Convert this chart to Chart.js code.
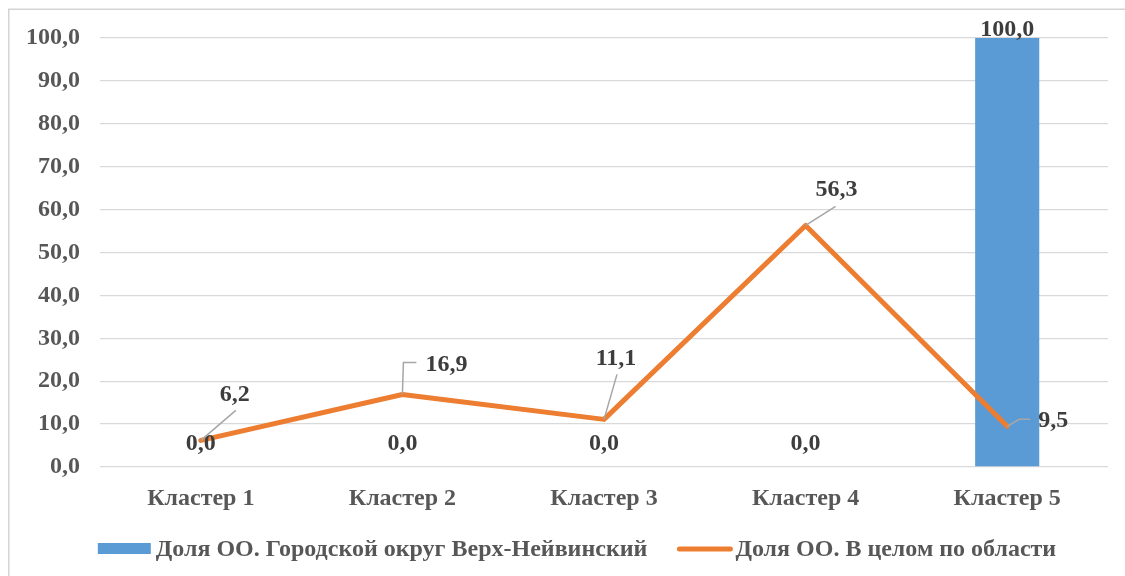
<!DOCTYPE html>
<html>
<head>
<meta charset="utf-8">
<title>Доля ОО по кластерам</title>
<script src="https://cdn.jsdelivr.net/npm/chart.js@4/dist/chart.umd.min.js"></script>
<style>
  html, body { margin: 0; padding: 0; background: #ffffff; }
  #wrap { position: absolute; left: 0; top: 0; width: 1125px; height: 576px; }
</style>
</head>
<body>
<div id="wrap"><canvas id="chart" width="1125" height="576"></canvas></div>
<script>
// ---- data ----
const categories = ['Кластер 1', 'Кластер 2', 'Кластер 3', 'Кластер 4', 'Кластер 5'];
const districtLabel = 'Доля ОО. Городской округ Верх-Нейвинский';
const districtValues = [0.0, 0.0, 0.0, 0.0, 100.0];
const regionLabel = 'Доля ОО. В целом по области';
const regionValues = [6.2, 16.9, 11.1, 56.3, 9.5];
const yMin = 0;
const yMax = 100;
const yStep = 10;

// ---- styling ----
const FONT = "'Liberation Serif', 'Times New Roman', serif";
const BLUE = '#5B9BD5';
const ORANGE = '#ED7D31';
const GRID = '#d9d9d9';
const AXIS_TEXT = '#575757';
const LABEL_TEXT = '#3d3d3d';
const LEADER = '#a6a6a6';

// Label placement for the line series: text centre / baseline offsets from
// the point, plus leader-line polyline (offsets from the point).
const lineLabelLayout = [
  { dx: 34, dy: -39, leader: [[0, 0], [35, -30]] },
  { dx: 44, dy: -23, leader: [[0, 0], [1, -32], [14, -32]] },
  { dx: 12, dy: -54, leader: [[0, 0], [13, -45]] },
  { dx: 31, dy: -29, leader: [[0, 0], [30, -19]] },
  { dx: 46, dy: 1,   leader: [[0, 0], [12, -7], [23, -7]] }
];

const fmt = v => v.toFixed(1).replace('.', ',');

// Thin frame around the chart (top and left edges)
const framePlugin = {
  id: 'frame',
  beforeDraw(chart) {
    const ctx = chart.ctx;
    ctx.save();
    ctx.fillStyle = '#ffffff';
    ctx.fillRect(0, 0, chart.width, chart.height);
    ctx.strokeStyle = '#d4d4d4';
    ctx.lineWidth = 1.5;
    ctx.beginPath();
    ctx.moveTo(8.75, chart.height);
    ctx.lineTo(8.75, 9.25);
    ctx.lineTo(chart.width, 9.25);
    ctx.stroke();
    ctx.restore();
  }
};

// Value labels: bar values above bars, line values with leader lines
const valueLabelPlugin = {
  id: 'valueLabels',
  afterDatasetsDraw(chart) {
    const ctx = chart.ctx;
    const area = chart.chartArea;
    ctx.save();
    ctx.font = 'bold 24px ' + FONT;
    ctx.fillStyle = LABEL_TEXT;
    ctx.textAlign = 'center';
    ctx.textBaseline = 'alphabetic';

    chart.data.datasets.forEach((ds, di) => {
      const meta = chart.getDatasetMeta(di);
      if (ds.type === 'bar') {
        meta.data.forEach((el, i) => {
          const y = Math.max(el.y - 17, area.top - 2);
          ctx.fillText(fmt(ds.data[i]), el.x, y);
        });
      } else {
        meta.data.forEach((el, i) => {
          const lay = lineLabelLayout[i];
          ctx.strokeStyle = LEADER;
          ctx.lineWidth = 1.5;
          ctx.beginPath();
          lay.leader.forEach((p, k) => {
            const px = el.x + p[0], py = el.y + p[1];
            if (k === 0) ctx.moveTo(px, py); else ctx.lineTo(px, py);
          });
          ctx.stroke();
          ctx.fillText(fmt(ds.data[i]), el.x + lay.dx, el.y + lay.dy);
        });
      }
    });
    ctx.restore();
  }
};

// Legend along the bottom, centred
const legendPlugin = {
  id: 'bottomLegend',
  afterDraw(chart) {
    const ctx = chart.ctx;
    ctx.save();
    ctx.font = 'bold 24px ' + FONT;
    ctx.fillStyle = AXIS_TEXT;
    ctx.textBaseline = 'middle';
    ctx.textAlign = 'left';
    const y = 549;
    const w1 = ctx.measureText(districtLabel).width;
    const w2 = ctx.measureText(regionLabel).width;
    const symW = 53, symGap = 5, itemGap = 30;
    const total = symW + symGap + w1 + itemGap + symW + symGap + w2;
    let x = 577 - total / 2;
    ctx.fillStyle = BLUE;
    ctx.fillRect(x, y - 6, symW, 11);
    x += symW + symGap;
    ctx.fillStyle = AXIS_TEXT;
    ctx.fillText(districtLabel, x, y + 1);
    x += w1 + itemGap;
    ctx.strokeStyle = ORANGE;
    ctx.lineWidth = 5;
    ctx.lineCap = 'round';
    ctx.beginPath();
    ctx.moveTo(x + 2, y);
    ctx.lineTo(x + symW, y);
    ctx.stroke();
    x += symW + symGap;
    ctx.fillText(regionLabel, x, y + 1);
    ctx.restore();
  }
};

new Chart(document.getElementById('chart'), {
  data: {
    labels: categories,
    datasets: [
      {
        type: 'bar',
        label: districtLabel,
        data: districtValues,
        backgroundColor: BLUE,
        borderWidth: 0,
        categoryPercentage: 1.0,
        barPercentage: 0.318,
        order: 1
      },
      {
        type: 'line',
        label: regionLabel,
        data: regionValues,
        borderColor: ORANGE,
        backgroundColor: ORANGE,
        borderWidth: 5,
        borderJoinStyle: 'round',
        borderCapStyle: 'round',
        pointRadius: 0,
        pointHoverRadius: 0,
        tension: 0,
        fill: false,
        order: 0
      }
    ]
  },
  options: {
    responsive: false,
    animation: false,
    devicePixelRatio: 1,
    layout: { padding: { left: 0, right: 17, top: 38, bottom: 0 } },
    plugins: {
      legend: { display: false },
      tooltip: { enabled: false }
    },
    scales: {
      x: {
        offset: true,
        grid: { display: false },
        border: { display: false },
        ticks: {
          color: AXIS_TEXT,
          font: { family: FONT, size: 24, weight: 'bold' },
          padding: 9,
          maxRotation: 0
        },
        afterFit(scale) { scale.height = 109; }
      },
      y: {
        min: yMin,
        max: yMax,
        grid: { color: GRID, lineWidth: 1.3, drawTicks: false },
        border: { display: false },
        ticks: {
          stepSize: yStep,
          color: AXIS_TEXT,
          font: { family: FONT, size: 24, weight: 'bold' },
          padding: 20,
          callback: v => fmt(v)
        },
        afterFit(scale) { scale.width = 100; }
      }
    }
  },
  plugins: [framePlugin, valueLabelPlugin, legendPlugin]
});
</script>
</body>
</html>
